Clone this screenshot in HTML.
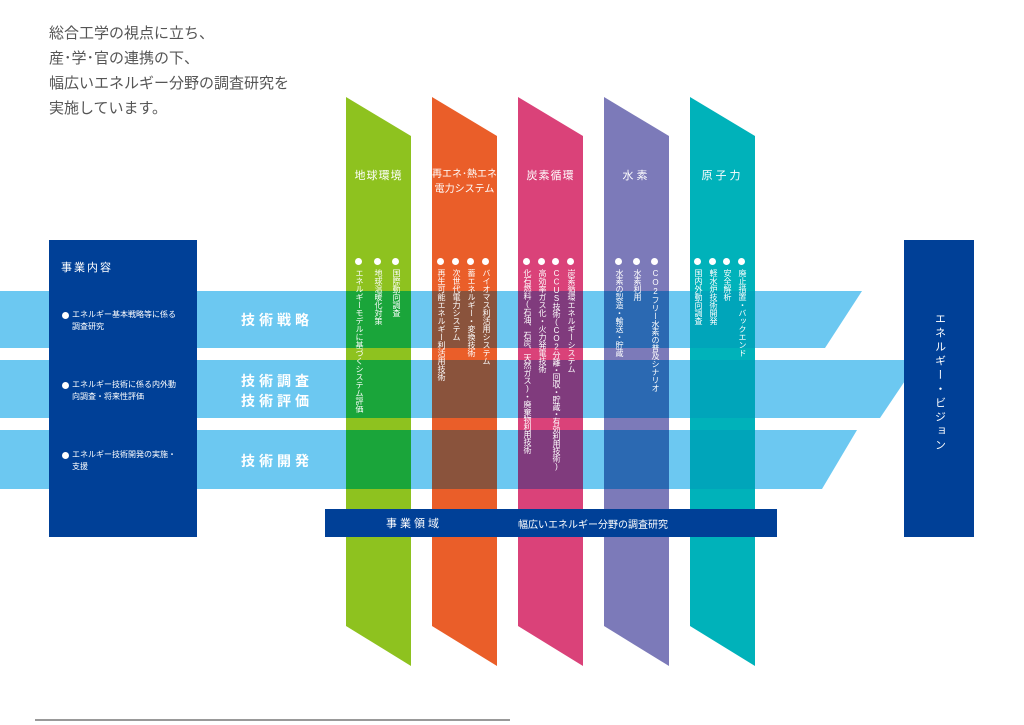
<!DOCTYPE html>
<html><head><meta charset="utf-8"><style>
html,body{margin:0;padding:0;background:#fff;}
#w{position:relative;width:1024px;height:725px;overflow:hidden;font-family:"Liberation Sans","Noto Sans CJK JP",sans-serif;}
svg{position:absolute;left:0;top:0;}
.t{position:absolute;color:#fff;white-space:nowrap;}
.v{position:absolute;color:#fff;writing-mode:vertical-rl;text-orientation:upright;font-size:8px;line-height:8px;white-space:nowrap;top:269px;}
.b{position:absolute;width:7px;height:7px;border-radius:50%;background:#fff;top:258px;}
.intro{position:absolute;left:49px;top:21px;font-size:15px;line-height:25px;color:#555;}
.bl{position:absolute;color:#fff;font-size:8px;line-height:12px;left:72px;}
.bd{position:absolute;left:62px;width:7px;height:7px;border-radius:50%;background:#fff;}
.bt{position:absolute;color:#fff;font-size:14px;letter-spacing:4px;left:241px;font-weight:bold;}
</style></head><body><div id="w">
<svg width="1024" height="725">
<polygon points="0,291 862,291 825,348 0,348" fill="#6cc8f1"/>
<polygon points="0,360 919,360 880,418 0,418" fill="#6cc8f1"/>
<polygon points="0,430 857,430 822,489 0,489" fill="#6cc8f1"/>
<polygon points="346,97 411,136 411,666 346,626" fill="#8ec21f"/>
<polygon points="432,97 497,136 497,666 432,626" fill="#ea5e29"/>
<polygon points="518,97 583,136 583,666 518,626" fill="#da4279"/>
<polygon points="604,97 669,136 669,666 604,626" fill="#7c7ab9"/>
<polygon points="690,97 755,136 755,666 690,626" fill="#00b2ba"/>
<g>
<rect x="346" y="291" width="65" height="57" fill="#1aa53a"/><rect x="346" y="360" width="65" height="58" fill="#1aa53a"/><rect x="346" y="430" width="65" height="59" fill="#1aa53a"/>
<rect x="432" y="291" width="65" height="57" fill="#8a533c"/><rect x="432" y="360" width="65" height="58" fill="#8a533c"/><rect x="432" y="430" width="65" height="59" fill="#8a533c"/>
<rect x="518" y="291" width="65" height="57" fill="#803b7d"/><rect x="518" y="360" width="65" height="58" fill="#803b7d"/><rect x="518" y="430" width="65" height="59" fill="#803b7d"/>
<rect x="604" y="291" width="65" height="57" fill="#2b69b2"/><rect x="604" y="360" width="65" height="58" fill="#2b69b2"/><rect x="604" y="430" width="65" height="59" fill="#2b69b2"/>
<rect x="690" y="291" width="65" height="57" fill="#00a5ba"/><rect x="690" y="360" width="65" height="58" fill="#00a5ba"/><rect x="690" y="430" width="65" height="59" fill="#00a5ba"/>
</g>
<rect x="49" y="240" width="148" height="297" fill="#004097"/>
<rect x="904" y="240" width="70" height="297" fill="#004097"/>
<rect x="325" y="509" width="452" height="28" fill="#004097"/>
<line x1="35" y1="720" x2="510" y2="720" stroke="#333" stroke-width="1"/>
</svg>
<div class="intro">総合工学の視点に立ち、<br>産･学･官の連携の下、<br>幅広いエネルギー分野の調査研究を<br>実施しています。</div>

<div class="t" style="left:61px;top:259px;font-size:11px;letter-spacing:2px;">事業内容</div>
<div class="bd" style="top:312px"></div><div class="bl" style="top:309px">エネルギー基本戦略等に係る<br>調査研究</div>
<div class="bd" style="top:382px"></div><div class="bl" style="top:379px">エネルギー技術に係る内外動<br>向調査・将来性評価</div>
<div class="bd" style="top:452px"></div><div class="bl" style="top:449px">エネルギー技術開発の実施・<br>支援</div>

<div class="bt" style="top:310px">技術戦略</div>
<div class="bt" style="top:371px">技術調査</div>
<div class="bt" style="top:391px">技術評価</div>
<div class="bt" style="top:451px">技術開発</div>

<div class="t" style="left:904px;width:70px;top:313px;font-size:11px;line-height:11px;writing-mode:vertical-rl;text-orientation:upright;letter-spacing:3px;display:flex;align-items:center;">エネルギー・ビジョン</div>

<div class="t" style="left:386px;top:515px;font-size:11px;letter-spacing:3px;">事業領域</div>
<div class="t" style="left:518px;top:516px;font-size:10px;">幅広いエネルギー分野の調査研究</div>

<div class="t" style="left:346px;width:65px;text-align:center;top:167px;font-size:11px;letter-spacing:1px;">地球環境</div>
<div class="t" style="left:432px;width:65px;text-align:center;top:167px;font-size:10px;line-height:15px;">再エネ･熱エネ<br>電力システム</div>
<div class="t" style="left:518px;width:65px;text-align:center;top:167px;font-size:11px;letter-spacing:1px;">炭素循環</div>
<div class="t" style="left:604px;width:65px;text-align:center;top:167px;font-size:11px;letter-spacing:3px;">水素</div>
<div class="t" style="left:690px;width:65px;text-align:center;top:167px;font-size:11px;letter-spacing:3px;">原子力</div>

<div class="b" style="left:392px"></div><div class="v" style="left:392px">国際動向調査</div>
<div class="b" style="left:374px"></div><div class="v" style="left:374px">地球温暖化対策</div>
<div class="b" style="left:355px"></div><div class="v" style="left:355px">エネルギーモデルに基づくシステム評価</div>

<div class="b" style="left:482px"></div><div class="v" style="left:482px">バイオマス利活用システム</div>
<div class="b" style="left:467px"></div><div class="v" style="left:467px">蓄エネルギー・変換技術</div>
<div class="b" style="left:452px"></div><div class="v" style="left:452px">次世代電力システム</div>
<div class="b" style="left:437px"></div><div class="v" style="left:437px">再生可能エネルギー利活用技術</div>

<div class="b" style="left:567px"></div><div class="v" style="left:567px">炭素循環エネルギーシステム</div>
<div class="b" style="left:552px"></div><div class="v" style="left:552px;letter-spacing:-0.6px">CCUS技術(CO2分離・回収・貯蔵・有効利用技術)</div>
<div class="b" style="left:538px"></div><div class="v" style="left:538px">高効率ガス化・火力発電技術</div>
<div class="b" style="left:523px"></div><div class="v" style="left:523px;letter-spacing:-0.4px">化石燃料(石油、石炭、天然ガス)・廃棄物利用技術</div>

<div class="b" style="left:651px"></div><div class="v" style="left:651px">CO2フリー水素の普及シナリオ</div>
<div class="b" style="left:633px"></div><div class="v" style="left:633px">水素利用</div>
<div class="b" style="left:615px"></div><div class="v" style="left:615px">水素の製造・輸送・貯蔵</div>

<div class="b" style="left:738px"></div><div class="v" style="left:738px">廃止措置・バックエンド</div>
<div class="b" style="left:723px"></div><div class="v" style="left:723px">安全解析</div>
<div class="b" style="left:709px"></div><div class="v" style="left:709px">軽水炉技術開発</div>
<div class="b" style="left:694px"></div><div class="v" style="left:694px">国内外動向調査</div>
</div></body></html>
